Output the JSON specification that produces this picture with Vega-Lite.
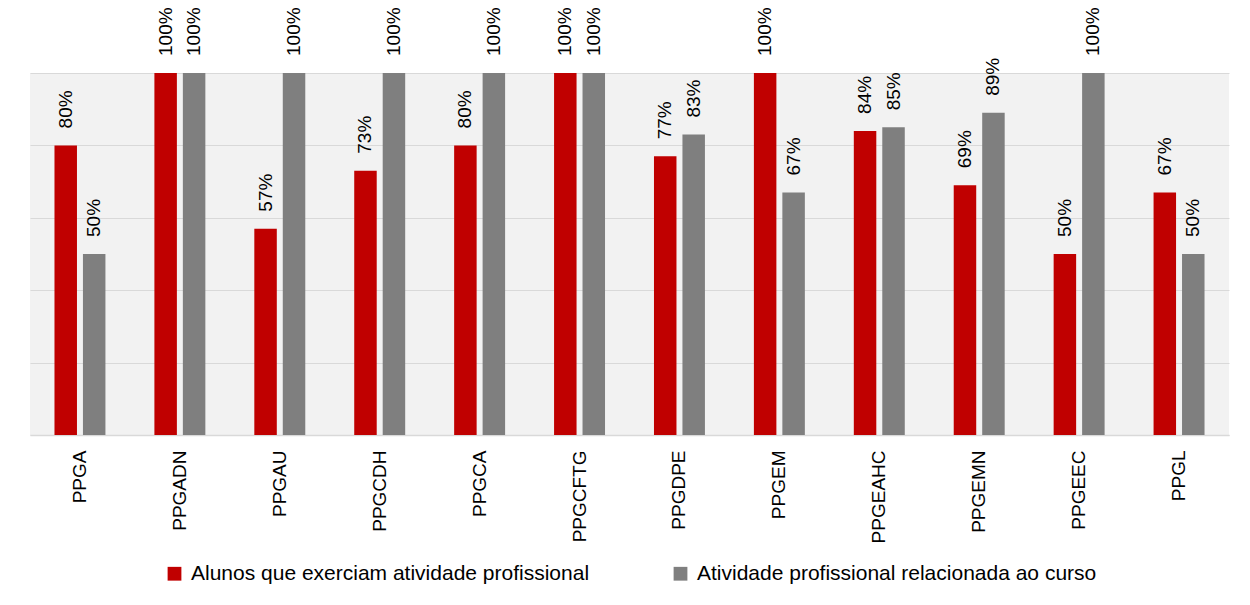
{
  "$schema": "https://vega.github.io/schema/vega-lite/v6.json",
  "autosize": {"type": "none"},
  "width": 1199,
  "height": 362,
  "padding": {"left": 30, "top": 73, "right": 21, "bottom": 170},
  "background": "white",
  "config": {
    "view": {"fill": "#F2F2F2", "stroke": null},
    "font": "Liberation Sans"
  },
  "data": {
    "values": [
      {"programa": "PPGA", "serie": "Alunos que exerciam atividade profissional", "valor": 0.80},
      {"programa": "PPGA", "serie": "Atividade profissional relacionada ao curso", "valor": 0.50},
      {"programa": "PPGADN", "serie": "Alunos que exerciam atividade profissional", "valor": 1.00},
      {"programa": "PPGADN", "serie": "Atividade profissional relacionada ao curso", "valor": 1.00},
      {"programa": "PPGAU", "serie": "Alunos que exerciam atividade profissional", "valor": 0.57},
      {"programa": "PPGAU", "serie": "Atividade profissional relacionada ao curso", "valor": 1.00},
      {"programa": "PPGCDH", "serie": "Alunos que exerciam atividade profissional", "valor": 0.73},
      {"programa": "PPGCDH", "serie": "Atividade profissional relacionada ao curso", "valor": 1.00},
      {"programa": "PPGCA", "serie": "Alunos que exerciam atividade profissional", "valor": 0.80},
      {"programa": "PPGCA", "serie": "Atividade profissional relacionada ao curso", "valor": 1.00},
      {"programa": "PPGCFTG", "serie": "Alunos que exerciam atividade profissional", "valor": 1.00},
      {"programa": "PPGCFTG", "serie": "Atividade profissional relacionada ao curso", "valor": 1.00},
      {"programa": "PPGDPE", "serie": "Alunos que exerciam atividade profissional", "valor": 0.77},
      {"programa": "PPGDPE", "serie": "Atividade profissional relacionada ao curso", "valor": 0.83},
      {"programa": "PPGEM", "serie": "Alunos que exerciam atividade profissional", "valor": 1.00},
      {"programa": "PPGEM", "serie": "Atividade profissional relacionada ao curso", "valor": 0.67},
      {"programa": "PPGEAHC", "serie": "Alunos que exerciam atividade profissional", "valor": 0.84},
      {"programa": "PPGEAHC", "serie": "Atividade profissional relacionada ao curso", "valor": 0.85},
      {"programa": "PPGEMN", "serie": "Alunos que exerciam atividade profissional", "valor": 0.69},
      {"programa": "PPGEMN", "serie": "Atividade profissional relacionada ao curso", "valor": 0.89},
      {"programa": "PPGEEC", "serie": "Alunos que exerciam atividade profissional", "valor": 0.50},
      {"programa": "PPGEEC", "serie": "Atividade profissional relacionada ao curso", "valor": 1.00},
      {"programa": "PPGL", "serie": "Alunos que exerciam atividade profissional", "valor": 0.67},
      {"programa": "PPGL", "serie": "Atividade profissional relacionada ao curso", "valor": 0.50}
    ]
  },
  "encoding": {
    "x": {
      "field": "programa",
      "type": "nominal",
      "sort": null,
      "scale": {"paddingInner": 0.49, "paddingOuter": 0.245},
      "axis": {
        "title": null,
        "labelAngle": -90,
        "labelFontSize": 19,
        "labelColor": "#000000",
        "labelPadding": 15,
        "ticks": false,
        "domainColor": "#D9D9D9",
        "domainWidth": 1.5
      }
    },
    "xOffset": {
      "field": "serie",
      "type": "nominal",
      "scale": {"paddingInner": 0.21, "paddingOuter": 0}
    },
    "y": {
      "field": "valor",
      "type": "quantitative",
      "scale": {"domain": [0, 1], "nice": false},
      "axis": {
        "title": null,
        "labels": false,
        "ticks": false,
        "domain": false,
        "values": [0, 0.2, 0.4, 0.6, 0.8, 1],
        "gridColor": "#D9D9D9",
        "gridWidth": 1
      }
    }
  },
  "layer": [
    {
      "mark": {"type": "bar"},
      "encoding": {
        "color": {
          "field": "serie",
          "type": "nominal",
          "scale": {"range": ["#C00000", "#7F7F7F"]},
          "legend": {
            "title": null,
            "orient": "none",
            "direction": "horizontal",
            "legendX": 134,
            "legendY": 490,
            "symbolType": "square",
            "symbolSize": 190,
            "symbolStrokeWidth": 0,
            "labelFontSize": 21,
            "labelColor": "#000000",
            "labelOffset": 6,
            "columnPadding": 80,
            "labelLimit": 700
          }
        }
      }
    },
    {
      "mark": {"type": "text", "angle": 270, "align": "left", "baseline": "middle", "dx": 17, "fontSize": 19, "color": "#000000"},
      "encoding": {
        "text": {"field": "valor", "type": "quantitative", "format": ".0%"},
        "detail": {"field": "serie"}
      }
    }
  ]
}
